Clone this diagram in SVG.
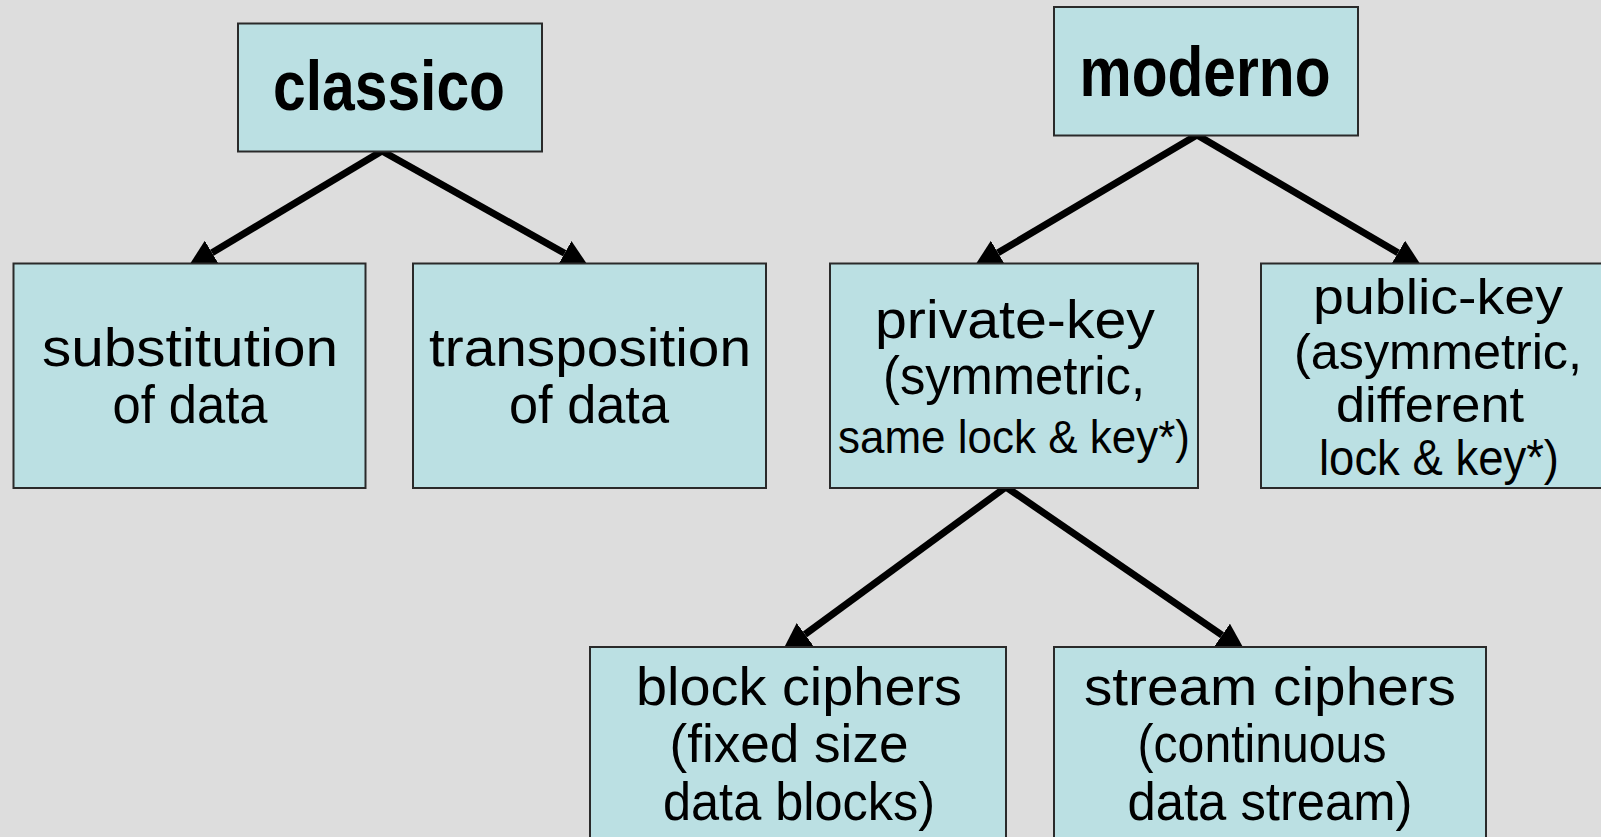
<svg xmlns="http://www.w3.org/2000/svg" width="1601" height="837" viewBox="0 0 1601 837">
  <defs>
    <style>
      .box { fill: #BBE0E3; stroke: #2a2a2a; stroke-width: 2; }
      .t { font-family: "Liberation Sans", "DejaVu Sans", sans-serif; font-size: 54px; fill: #000; text-anchor: middle; }
      .title { font-weight: bold; font-size: 70px; }
      .sm { font-size: 47px; }
      .pk { font-size: 50px; }
      .edge { stroke: #000; stroke-width: 7; fill: none; marker-end: url(#head); }
    </style>
    <marker id="head" markerUnits="userSpaceOnUse" viewBox="0 0 28 28" markerWidth="28" markerHeight="28" refX="0" refY="14" orient="auto">
      <path d="M0,0 L28,14 L0,28 Z" fill="#000"/>
    </marker>
  </defs>

  <rect x="0" y="0" width="1601" height="837" fill="#DDDDDD"/>

  <!-- connectors: drawn first so the boxes cover the arrow tips -->
  <g id="connectors">
    <line class="edge" x1="382" y1="151" x2="212" y2="252.7"/>
    <line class="edge" x1="382" y1="151" x2="564.6" y2="253.3"/>
    <line class="edge" x1="1197" y1="135" x2="998" y2="252.8"/>
    <line class="edge" x1="1197" y1="135" x2="1398" y2="252.8"/>
    <line class="edge" x1="1006" y1="487" x2="805" y2="634.4"/>
    <line class="edge" x1="1006" y1="487" x2="1222" y2="635.2"/>
  </g>

  <g id="classico">
    <rect class="box" x="238" y="23.5" width="304" height="128"/>
    <text class="t title" x="389" y="110" textLength="232" lengthAdjust="spacingAndGlyphs">classico</text>
  </g>

  <g id="moderno">
    <rect class="box" x="1054" y="7" width="304" height="128.5"/>
    <text class="t title" x="1205" y="96" textLength="251" lengthAdjust="spacingAndGlyphs">moderno</text>
  </g>

  <g id="substitution">
    <rect class="box" x="13.5" y="263.5" width="352" height="224.5"/>
    <text class="t" x="190" y="366" textLength="296" lengthAdjust="spacingAndGlyphs">substitution</text>
    <text class="t" x="190" y="423" textLength="155" lengthAdjust="spacingAndGlyphs">of data</text>
  </g>

  <g id="transposition">
    <rect class="box" x="413" y="263.5" width="353" height="224.5"/>
    <text class="t" x="590" y="366" textLength="322" lengthAdjust="spacingAndGlyphs">transposition</text>
    <text class="t" x="589" y="423" textLength="160" lengthAdjust="spacingAndGlyphs">of data</text>
  </g>

  <g id="private-key">
    <rect class="box" x="830" y="263.5" width="368" height="224.5"/>
    <text class="t" x="1015" y="338" textLength="280" lengthAdjust="spacingAndGlyphs">private-key</text>
    <text class="t" x="1014" y="394" textLength="262" lengthAdjust="spacingAndGlyphs">(symmetric,</text>
    <text class="t sm" x="1014" y="453" textLength="352" lengthAdjust="spacingAndGlyphs">same lock &amp; key*)</text>
  </g>

  <g id="public-key">
    <rect class="box" x="1261" y="263.5" width="354" height="224.5"/>
    <text class="t pk" x="1438" y="314" textLength="250" lengthAdjust="spacingAndGlyphs">public-key</text>
    <text class="t pk" x="1438" y="369" textLength="288" lengthAdjust="spacingAndGlyphs">(asymmetric,</text>
    <text class="t pk" x="1430" y="422" textLength="188" lengthAdjust="spacingAndGlyphs">different</text>
    <text class="t pk" x="1439" y="475" textLength="240" lengthAdjust="spacingAndGlyphs">lock &amp; key*)</text>
  </g>

  <g id="block-ciphers">
    <rect class="box" x="590" y="647" width="416" height="215"/>
    <text class="t" x="799" y="705" textLength="326" lengthAdjust="spacingAndGlyphs">block ciphers</text>
    <text class="t" x="789" y="762" textLength="239" lengthAdjust="spacingAndGlyphs">(fixed size</text>
    <text class="t" x="799" y="820" textLength="272" lengthAdjust="spacingAndGlyphs">data blocks)</text>
  </g>

  <g id="stream-ciphers">
    <rect class="box" x="1054" y="647" width="432" height="215"/>
    <text class="t" x="1270" y="705" textLength="372" lengthAdjust="spacingAndGlyphs">stream ciphers</text>
    <text class="t" x="1262" y="762" textLength="249" lengthAdjust="spacingAndGlyphs">(continuous</text>
    <text class="t" x="1270" y="820" textLength="285" lengthAdjust="spacingAndGlyphs">data stream)</text>
  </g>
</svg>
